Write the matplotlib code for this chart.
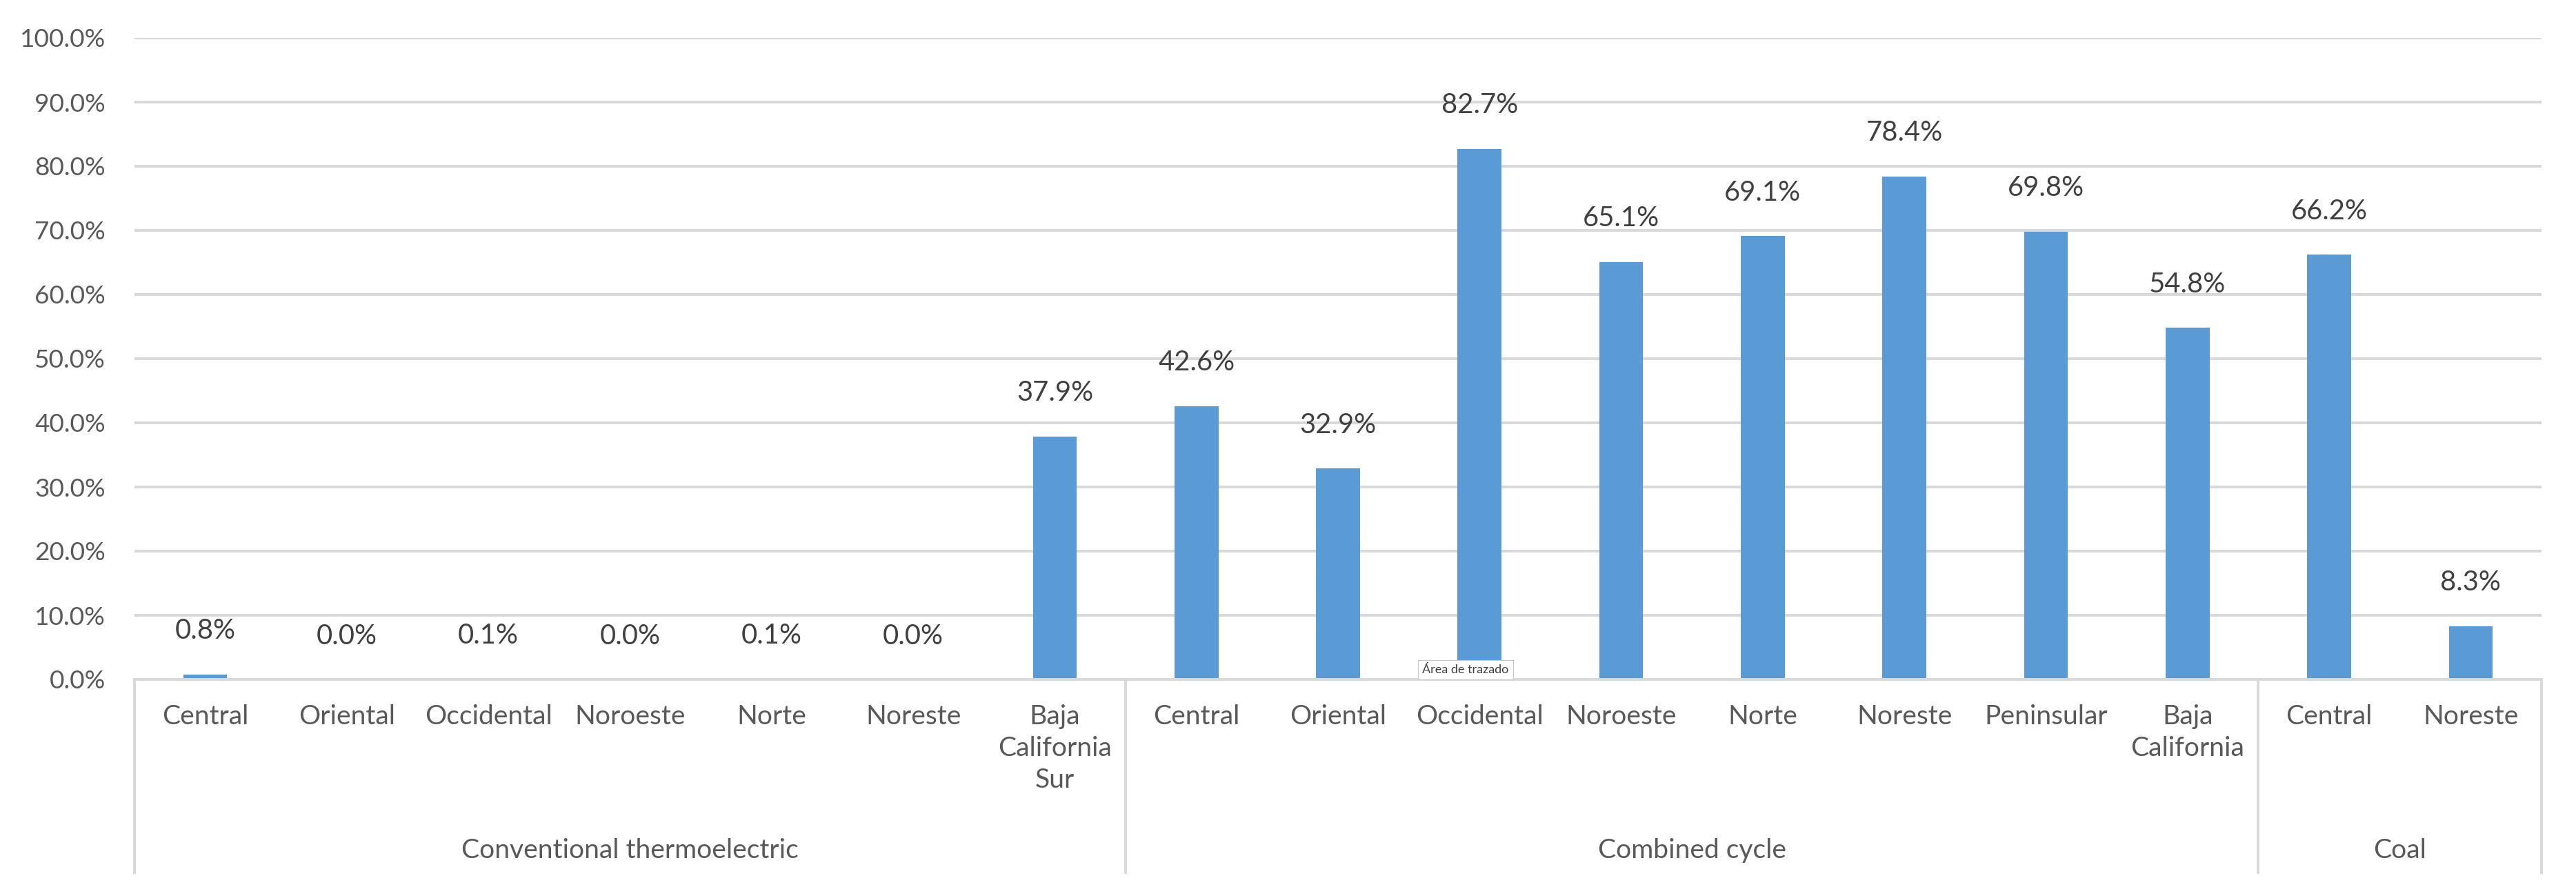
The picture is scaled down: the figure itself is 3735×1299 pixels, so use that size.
import matplotlib
matplotlib.use("Agg")
import matplotlib.pyplot as plt
from matplotlib.ticker import FuncFormatter, MultipleLocator

plt.rcParams['font.family'] = ['Lato', 'DejaVu Sans']

# data
groups = ["Conventional thermoelectric", "Combined cycle", "Coal"]
conventional_regions = ["Central", "Oriental", "Occidental", "Noroeste", "Norte",
                        "Noreste", "Baja\nCalifornia\nSur"]
combined_regions = ["Central", "Oriental", "Occidental", "Noroeste", "Norte",
                    "Noreste", "Peninsular", "Baja\nCalifornia"]
coal_regions = ["Central", "Noreste"]
conventional_values = [0.8, 0.0, 0.1, 0.0, 0.1, 0.0, 37.9]
combined_values = [42.6, 32.9, 82.7, 65.1, 69.1, 78.4, 69.8, 54.8]
coal_values = [66.2, 8.3]

regions = conventional_regions + combined_regions + coal_regions
values = [v / 100 for v in conventional_values + combined_values + coal_values]
group_sizes = [len(conventional_regions), len(combined_regions), len(coal_regions)]

BAR = "#5B9BD5"
GRID = "#D9D9D9"
TXT = "#595959"
LBL = "#404040"

DPI = 72
fig = plt.figure(figsize=(3735 / DPI, 1299 / DPI), dpi=DPI)
ax = fig.add_axes([195 / 3735, 314 / 1299, 3490 / 3735, 930 / 1299])

x = list(range(len(values)))
ax.bar(x, values, width=0.31, color=BAR, zorder=3)

ax.set_xlim(-0.5, len(values) - 0.5)
ax.set_ylim(0, 1)
ax.yaxis.set_major_locator(MultipleLocator(0.1))
ax.yaxis.set_major_formatter(FuncFormatter(lambda v, p: f"{v * 100:.1f}%"))
ax.tick_params(axis='y', length=0, pad=42, labelsize=37, labelcolor=TXT)
ax.set_xticks([])
ax.grid(axis='y', color=GRID, linewidth=4, zorder=0)
for s in ['top', 'right', 'left']:
    ax.spines[s].set_visible(False)
ax.spines['bottom'].set_color(GRID)
ax.spines['bottom'].set_linewidth(4)
ax.spines['bottom'].set_zorder(4)

# data labels
for xi, v in zip(x, values):
    ax.annotate(f"{v * 100:.1f}%", xy=(xi, v), xytext=(0, 63), textcoords='offset points',
                ha='center', va='center', fontsize=40, color=LBL)

# region labels
for xi, r in zip(x, regions):
    ax.annotate(r, xy=(xi, 0), xycoords=('data', 'axes fraction'), xytext=(0, -36),
                textcoords='offset points', ha='center', va='top', fontsize=39,
                color=TXT, linespacing=1.35, annotation_clip=False)

# group labels and separators
bounds = [-0.5]
for n in group_sizes:
    bounds.append(bounds[-1] + n)
for g, a, b in zip(groups, bounds[:-1], bounds[1:]):
    ax.annotate(g, xy=((a + b) / 2, 0), xycoords=('data', 'axes fraction'), xytext=(0, -248),
                textcoords='offset points', ha='center', va='center', fontsize=39,
                color=TXT, annotation_clip=False)
for bnd in bounds:
    ax.plot([bnd, bnd], [0, -280 / 930], color=GRID, linewidth=4, clip_on=False,
            transform=ax.get_xaxis_transform(), zorder=4)

# excel tooltip left in the screenshot
ax.text(8.9, 0.015, "Área de trazado", ha='center', va='center', fontsize=18,
        color="#404040", zorder=6,
        bbox=dict(boxstyle='square,pad=0.35', facecolor='white', edgecolor='#C8C8C8',
                  linewidth=1))

fig.savefig("out.png", dpi=DPI, facecolor='white')
